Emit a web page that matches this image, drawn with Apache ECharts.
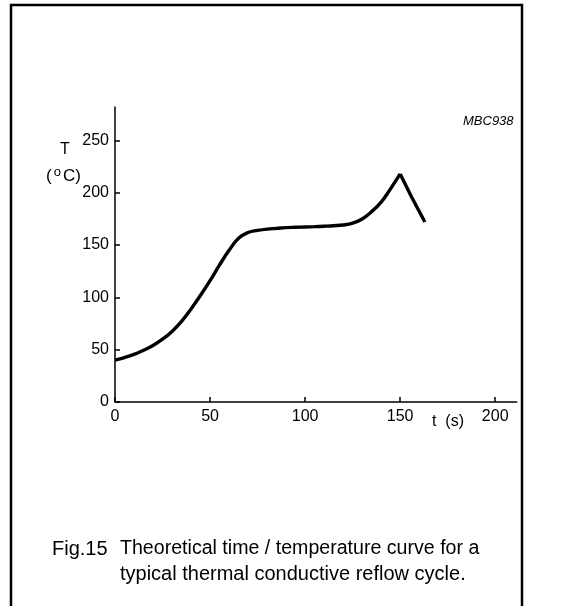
<!DOCTYPE html>
<html><head><meta charset="utf-8">
<script src="https://cdn.jsdelivr.net/npm/echarts@6/dist/echarts.min.js"></script>
<style>html,body{margin:0;padding:0;background:#fff}#c{width:564px;height:606px}</style>
</head><body><div id="c"></div>
<script>
const xTicks = [0, 50, 100, 150, 200];
const yTicks = [0, 50, 100, 150, 200, 250];
const riseT = [0, 5, 10, 15, 20, 25, 30, 35, 40, 45, 50, 55, 60, 65, 70, 75, 80, 85, 90, 95, 100, 105, 110, 115, 120, 125, 130, 135, 140, 145, 150];
const riseTemp = [40, 42.5, 45.5, 49.5, 54, 60, 67.5, 77, 89, 102, 116, 131, 145, 156.5, 162, 164, 165.3, 166, 166.7, 167, 167.3, 167.6, 168, 168.5, 169.2, 171, 175, 182, 191, 204, 218];
const fallT = [150, 156, 163];
const fallTemp = [218, 196, 172];

const font = '"Liberation Sans", Arial, Helvetica, sans-serif';
const chart = echarts.init(document.getElementById('c'));
chart.setOption({
  backgroundColor: '#fff',
  animation: false,
  grid: {left: 115, top: 107, width: 401.7, height: 295, containLabel: false},
  xAxis: {
    type: 'value', min: 0, max: 211.3,
    axisLine: {lineStyle: {color: '#000', width: 1.5}},
    axisTick: {inside: true, length: 5, customValues: xTicks, lineStyle: {color: '#000', width: 1.5}},
    axisLabel: {customValues: xTicks, color: '#000', fontSize: 16, fontFamily: font, margin: 7},
    splitLine: {show: false}
  },
  yAxis: {
    type: 'value', min: 0, max: 282,
    axisLine: {show: true, lineStyle: {color: '#000', width: 1.5}},
    axisTick: {show: true, inside: true, length: 5, customValues: yTicks, lineStyle: {color: '#000', width: 1.5}},
    axisLabel: {customValues: yTicks, color: '#000', fontSize: 16, fontFamily: font, margin: 6},
    splitLine: {show: false}
  },
  series: [
    {type: 'line', data: riseT.map((t, i) => [t, riseTemp[i]]), smooth: 0.45, symbol: 'none',
     lineStyle: {color: '#000', width: 3.4}},
    {type: 'line', data: fallT.map((t, i) => [t, fallTemp[i]]), smooth: false, symbol: 'none',
     lineStyle: {color: '#000', width: 3.4}}
  ],
  graphic: [
    {type: 'polyline', shape: {points: [[11, 612], [11, 5], [522, 5], [522, 612]]}, style: {stroke: '#000', lineWidth: 2.5, fill: null}},
    {type: 'text', left: 60, top: 142, style: {text: 'T', font: '16px ' + font, fill: '#000'}},
    {type: 'text', left: 46, top: 166, style: {text: '({s|o}C)', font: '17px ' + font, fill: '#000',
      rich: {s: {fontSize: 13, fontFamily: font, verticalAlign: 'top', padding: [0, 2, 7, 2]}}}},
    {type: 'text', left: 432, top: 414, style: {text: 't  (s)', font: '16px ' + font, fill: '#000'}},
    {type: 'text', left: 463, top: 115, style: {text: 'MBC938', font: 'italic 13px ' + font, fill: '#000'}},
    {type: 'text', left: 52, top: 539, style: {text: 'Fig.15', font: '20px ' + font, fill: '#000'}},
    {type: 'text', left: 120, top: 539, style: {text: 'Theoretical time / temperature curve for a', font: '19.6px ' + font, fill: '#000'}},
    {type: 'text', left: 120, top: 564, style: {text: 'typical thermal conductive reflow cycle.', font: '20px ' + font, fill: '#000'}}
  ]
});
</script></body></html>
